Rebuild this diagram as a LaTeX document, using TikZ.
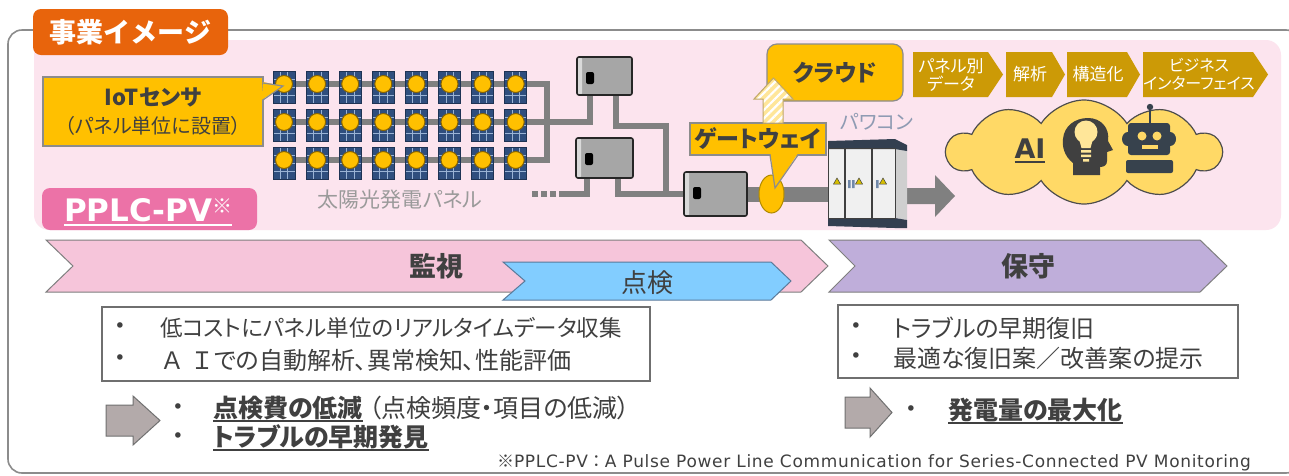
\documentclass[tikz,border=0pt]{standalone}
\usepackage{fontspec}
\setmainfont{Noto Sans CJK JP}[RawFeature=+palt]
\newfontfamily\cjkfull{Noto Sans CJK JP}
\newfontfamily\dejavu{DejaVu Sans}
\newfontfamily\dejavuwide{DejaVu Sans}[LetterSpace=4]
\usetikzlibrary{shapes.symbols,shapes.geometric,patterns.meta}

\newcommand\fs[2]{\fontsize{#1}{#2}\selectfont}
% underline drawn as a thick rule under the text
\newcommand\ulbar[2][txt]{\setbox0\hbox{#2}\rlap{\color{#1}\rule[-4.5pt]{\wd0}{1.8pt}}\box0}

\definecolor{txt}{HTML}{404040}
\definecolor{framec}{HTML}{8C8C8C}
\definecolor{pinkbg}{HTML}{FCE4EE}
\definecolor{tabor}{HTML}{E8640C}
\definecolor{gold}{HTML}{FFC000}
\definecolor{calloutb}{HTML}{8C8C8C}
\definecolor{wirec}{HTML}{808080}
\definecolor{panelb}{HTML}{2F4E7E}
\definecolor{panell}{HTML}{9AB3D5}
\definecolor{panele}{HTML}{1E3354}
\definecolor{circb}{HTML}{8A6500}
\definecolor{chev}{HTML}{CC9A06}
\definecolor{cloudy}{HTML}{FFD966}
\definecolor{clouddraw}{HTML}{4D4D4D}
\definecolor{pplc}{HTML}{EC72A7}
\definecolor{monpink}{HTML}{F6C5DA}
\definecolor{insblue}{HTML}{82CDFF}
\definecolor{insb}{HTML}{5A7A9A}
\definecolor{maintp}{HTML}{BFAEDA}
\definecolor{chevb}{HTML}{7F7F7F}
\definecolor{arrowg}{HTML}{B3AAAA}
\definecolor{arrowb}{HTML}{707070}
\definecolor{navy}{HTML}{333F50}
\definecolor{robotc}{HTML}{37424D}
\definecolor{bulbc}{HTML}{FFE699}
\definecolor{boxg}{HTML}{A6A6A6}
\definecolor{boxlight}{HTML}{D9D9D9}
\definecolor{pcsface}{HTML}{F0F0F0}
\definecolor{pcsside}{HTML}{CFCFCF}
\definecolor{warn}{HTML}{D6BE00}
\definecolor{handle}{HTML}{7088AA}
\definecolor{pcslabel}{HTML}{8F9BB3}
\definecolor{panellabel}{HTML}{9A9A9A}
\definecolor{hatchy}{HTML}{FFE699}
\definecolor{hatchb}{HTML}{BFA76A}
\definecolor{gwedge}{HTML}{B08A00}
\definecolor{boxb}{HTML}{6F6F6F}

\pgfdeclarelayer{bg}
\pgfdeclarelayer{wires}
\pgfsetlayers{bg,wires,main}

\begin{document}
\begin{tikzpicture}[x=1pt,y=-1pt,
  every node/.style={inner sep=0pt, outer sep=0pt, text=txt},
  wire/.style={draw=wirec, line width=6pt, line join=miter},
  callout/.style={fill=gold, draw=calloutb, line width=1.2pt},
  jbox/.style={draw=black!85, line width=1.6pt, fill=boxg, rounded corners=2pt,
    path picture={
      \fill[boxlight] (path picture bounding box.north west) rectangle ([xshift=5pt]path picture bounding box.south west);
      \fill[black] ([xshift=9pt,yshift=-15pt]path picture bounding box.north west) rectangle ++(8pt,-12pt);
    }},
  stage/.style={draw=chevb, line width=1pt},
  textbox/.style={draw=boxb, line width=1.3pt, fill=white},
  resultarrow/.style={fill=arrowg, draw=arrowb, line width=1pt},
  chevtext/.style={text=white, font=\fs{17}{18}, align=center},
  dot/.style={font=\dejavu\fs{19}{24}},
]
\useasboundingbox (0,0) rectangle (1289,475);
\clip (0,0) rectangle (1289,475);

% ---------- backdrop ----------
\begin{pgfonlayer}{bg}
  \fill[white] (0,0) rectangle (1289,475);
  \draw[draw=framec, line width=1.6pt, rounded corners=14pt] (8,30) rectangle (1300,473);
  \fill[pinkbg, rounded corners=15pt] (34,40) rectangle (1281,230);
\end{pgfonlayer}

\node[fill=tabor, rounded corners=8pt, minimum width=195pt, minimum height=46pt,
      text=white, font=\cjkfull\bfseries\fs{27}{30}] (tab) at (130.5,32) {事業イメージ};

% ---------- boxes on the strings ----------
\node[jbox, minimum width=55pt, minimum height=38pt] (jb1) at (604.5,76) {};
\node[jbox, minimum width=57pt, minimum height=40pt] (jb2) at (604.5,158) {};
\node[jbox, minimum width=63pt, minimum height=44pt] (cb) at (715.5,194) {};
\node[minimum width=79pt, minimum height=86pt] (pcs) at (867.5,184) {};

% ---------- wiring ----------
\begin{pgfonlayer}{wires}
  \draw[wire] (290,84) -| (547,160) -- (290,160);
  \draw[wire] (290,122) -| ([xshift=-14.5pt]jb1.south);
  \draw[wire] ([xshift=11.5pt]jb1.south) |- (666,126) |- (cb.west);
  \draw[wire] ([xshift=13.5pt]jb2.south) |- (cb.west);
  \draw[wire] ([xshift=-17.5pt]jb2.south) |- (559,194);
  \draw[wire, dash pattern=on 6pt off 3pt] (556,194) -- (530,194);
  \draw[wirec, line width=15pt] (cb.east) -- (cb.east -| pcs.west);
  \fill[wirec] ([yshift=-4pt]pcs.east) -- ++(28,0) -- ++(0,-13) -- ++(20,21)
     -- ++(-20,21) -- ++(0,-13) -- ++(-28,0) -- cycle;
\end{pgfonlayer}

% ---------- solar panels ----------
\foreach \wy in {84,122,160} {
  \foreach \c in {0,...,7} {
    \pgfmathsetmacro\px{273+33.1*\c}
    \begin{scope}[shift={(\px,\wy-13)}]
      \fill[panelb] (0,0) rectangle (22,32);
      \draw[panell, line width=0.6pt] (7.3,0) -- (7.3,32) (14.7,0) -- (14.7,32)
        (0,8) -- (22,8) (0,16) -- (22,16) (0,24) -- (22,24);
      \draw[panele, line width=0.8pt] (0,0) rectangle (22,32);
      \filldraw[fill=gold, draw=circb, line width=1pt] (11,13) circle (8.5);
    \end{scope}
  }
}
\node[text=panellabel, font=\fs{21}{24}] (pvl) at (400,200) {太陽光発電パネル};

% ---------- IoT sensor callout ----------
\node[callout, minimum width=220pt, minimum height=69pt, align=center, font=\fs{20}{28}] (iot) at (153,111.5)
  {{\bfseries\fs{22}{28}IoTセンサ}\\（パネル単位に設置）};
\fill[gold] ([yshift=1pt]iot.east |- 0,83) -- (283,86) -- ([xshift=-1.5pt]iot.east |- 0,100) -- cycle;
\draw[calloutb, line width=1.2pt] (iot.east |- 0,83) -- (283,86) -- (iot.east |- 0,100);

% ---------- gateway ----------
\node[ellipse, minimum width=25pt, minimum height=38pt, fill=gold, draw=gwedge, line width=1pt] (gw) at (771.5,194) {};
\node[callout, minimum width=136pt, minimum height=32pt, font=\bfseries\fs{23}{26}] (gwl) at (758,139) {ゲートウェイ};
\fill[gold] ([xshift=12.5pt,yshift=1pt]gwl.south) -- ([xshift=3.5pt,yshift=6pt]gw.center) -- ([xshift=39.5pt,yshift=1pt]gwl.south) -- cycle;
\draw[calloutb, line width=1.2pt] ([xshift=12pt]gwl.south) -- ([xshift=3.5pt,yshift=6pt]gw.center) -- ([xshift=40pt]gwl.south);

% ---------- cloud service ----------
\node[callout, rounded corners=10pt, minimum width=136pt, minimum height=57pt, font=\bfseries\fs{23}{26}] (cloudbox) at (835,72.5) {クラウド};
\path[preaction={fill=hatchy}, pattern={Lines[angle=45,distance=6pt,line width=2.2pt]}, pattern color=white,
      draw=hatchb, line width=1pt]
  ([xshift=5pt]gwl.north) -- ++(0,-24) -- ++(-9,0) -- ++(19.5,-21) -- ++(19.5,21) -- ++(-10,0) -- ++(0,24) -- cycle;

% ---------- power conditioner ----------
\node[text=pcslabel, font=\fs{20}{24}] (pcsl) at (877,122) {パワコン};
\fill[pcsface] (828,148) rectangle (895,218);
\fill[pcsside] (895,148) -- (907,150) -- (907,220) -- (895,218) -- cycle;
\fill[navy] (828,141) -- (895,139) -- (907,145) -- (907,151) -- (895,149) -- (828,149) -- cycle;
\fill[navy] (828,218) -- (895,218) -- (907,220) -- (907,228) -- (895,228) -- (828,226) -- cycle;
\draw[txt, line width=1pt] (828,148) rectangle (895,218);
\draw[txt, line width=1.5pt] (845,149) -- (845,218) (872,149) -- (872,218);
\foreach \tx in {837,859,883} {
  \filldraw[fill=warn, draw=txt, line width=0.5pt] (\tx-3.5,184) -- (\tx+3.5,184) -- (\tx,178) -- cycle;
}
\fill[handle] (848,180) rectangle (850.5,188) (852,180) rectangle (854.5,188) (876,180) rectangle (878.5,188);

% ---------- analysis steps ----------
\fill[chev] (913,52) -- (988,52) -- (1003,74.5) -- (988,97) -- (913,97) -- cycle;
\fill[chev] (1006,52) -- (1052,52) -- (1065,74.5) -- (1052,97) -- (1006,97) -- cycle;
\fill[chev] (1067,52) -- (1127,52) -- (1140,74.5) -- (1127,97) -- (1067,97) -- cycle;
\fill[chev] (1143,52) -- (1253,52) -- (1268,74.5) -- (1253,97) -- (1143,97) -- cycle;
\node[chevtext] (s1) at (951,75) {パネル別\\データ};
\node[chevtext] (s2) at (1030,74.5) {解析};
\node[chevtext] (s3) at (1098,74.5) {構造化};
\node[chevtext, font=\fs{16}{18}] (s4) at (1199,74.5) {ビジネス\\インターフェイス};

% ---------- AI cloud ----------
\node[cloud, cloud puffs=10, cloud puff arc=115, aspect=2.6, minimum width=274pt, minimum height=104pt,
      fill=cloudy, draw=clouddraw, line width=1.2pt] (ai) at (1084,152) {};
\node[anchor=base, font=\dejavu\bfseries\fs{27}{30}] (aitext) at (1030,158) {\ulbar{AI}};
% head with a light bulb
\fill[txt] (1073,175) -- (1073,163) .. controls (1064,156) and (1062,146) .. (1063,139)
  .. controls (1064,126) and (1075,118) .. (1088,118) .. controls (1101,118) and (1110,128) .. (1108,141)
  -- (1113,150) -- (1107,152) -- (1107,161) .. controls (1107,165) and (1104,167) .. (1100,167)
  -- (1100,175) -- cycle;
\fill[bulbc] (1086,132) circle (11.5);
\fill[bulbc] (1079,139) -- (1093,139) -- (1090.5,148) -- (1081.5,148) -- cycle;
\fill[bulbc] (1081,150) rectangle (1091,152.5) (1081,154.5) rectangle (1091,157) (1083,159) rectangle (1089,161.5);
% robot
\fill[robotc] (1128,139) ellipse (6 and 7) (1170,139) ellipse (6 and 7);
\draw[robotc, line width=2pt] (1150,108) -- (1150,123);
\fill[robotc] (1150,107) circle (3.2);
\fill[robotc, rounded corners=3pt] (1128,123) rectangle (1170,155);
\fill[cloudy] (1142,136) circle (4.5) (1157,136) circle (4.5);
\fill[cloudy] (1142,145) rectangle (1158,149);
\fill[robotc, rounded corners=2pt] (1126,160) rectangle (1173,173);

% ---------- PPLC-PV tag ----------
\node[fill=pplc, rounded corners=8pt, minimum width=215pt, minimum height=42pt] (pplcbox) at (149.5,209) {};
\node[anchor=base west, text=white, font=\dejavu\bfseries\fs{31}{34}] (pplct) at (64,221)
  {\ulbar[white]{PPLC-PV\raisebox{8pt}{\normalfont\fs{20}{20}※}}};

% ---------- stages ----------
\filldraw[stage, fill=monpink] (46,240) -- (801,240) -- (828,266) -- (801,292) -- (46,292) -- (73,266) -- cycle;
\filldraw[stage, fill=maintp] (829,240) -- (1200,240) -- (1227,266) -- (1200,292) -- (829,292) -- (855,266) -- cycle;
\filldraw[draw=insb, line width=1pt, fill=insblue] (503,262) -- (771,262) -- (791,281) -- (771,300) -- (503,300) -- (525,281) -- cycle;
\node[font=\bfseries\fs{27}{30}] (mon) at (436,266) {監視};
\node[font=\fs{26}{30}] (ins) at (647,283) {点検};
\node[font=\bfseries\fs{27}{30}] (mnt) at (1028,266) {保守};

% ---------- monitoring details ----------
\node[textbox, minimum width=548pt, minimum height=74pt] (lbox) at (376,344) {};
\node[dot] (lb1) at (120,328) {•};
\node[dot] (lb2) at (120,360) {•};
\node[anchor=west, font=\fs{22.5}{28}] (lt1) at (160,328) {低コストにパネル単位のリアルタイムデータ収集};
\node[anchor=west, font=\fs{24}{28}] (lt2) at (160,360) {\hspace{3pt}Ａ\hspace{12pt}Ｉ\hspace{2pt}での自動解析、異常検知、性能評価};

\filldraw[resultarrow] (106,405) -- (133,405) -- (133,396) -- (160,420.5) -- (133,445) -- (133,436) -- (106,436) -- cycle;
\node[dot] (lr1) at (178,409) {•};
\node[dot] (lr2) at (178,438) {•};
\node[anchor=west, font=\fs{25}{28}] (lrt1) at (213,409) {\ulbar{\bfseries 点検費の低減}\hspace{6pt}（点検頻度・項目の低減）};
\node[anchor=west, font=\fs{25}{28}] (lrt2) at (213,438) {\ulbar{\bfseries トラブルの早期発見}};

% ---------- maintenance details ----------
\node[textbox, minimum width=400pt, minimum height=73pt] (rbox) at (1038,341.5) {};
\node[dot] (rb1) at (856,328) {•};
\node[dot] (rb2) at (856,358) {•};
\node[anchor=west, font=\fs{24}{28}] (rt1) at (893,328) {トラブルの早期復旧};
\node[anchor=west, font=\fs{24}{28}] (rt2) at (893,358) {最適な復旧案／改善案の提示};

\filldraw[resultarrow] (845,397) -- (870,397) -- (870,388) -- (892,412.5) -- (870,437) -- (870,428) -- (845,428) -- cycle;
\node[dot] (rr1) at (911,411) {•};
\node[anchor=west, font=\fs{25}{28}] (rrt1) at (948,411) {\ulbar{\bfseries 発電量の最大化}};

% ---------- footnote ----------
\node[anchor=west, font=\fs{17}{18}] (fn) at (497,463)
  {※{\dejavuwide PPLC-PV}{\cjkfull ：}{\dejavuwide A Pulse Power Line Communication for Series-Connected PV Monitoring}};
\end{tikzpicture}
\end{document}
